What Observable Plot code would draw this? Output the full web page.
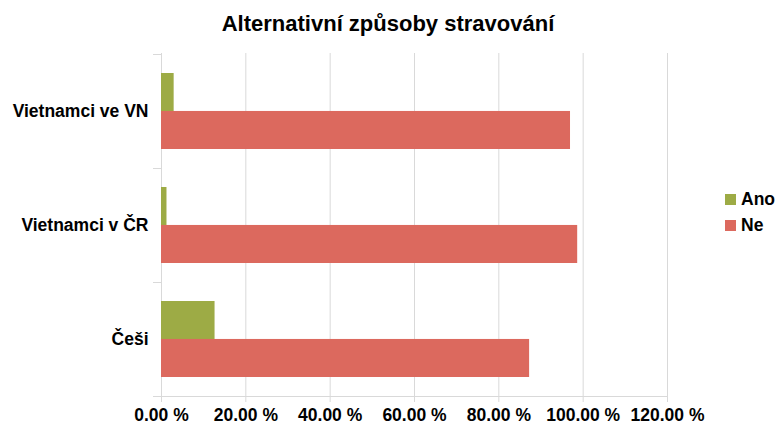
<!DOCTYPE html>
<html>
<head>
<meta charset="utf-8">
<script src="https://cdn.jsdelivr.net/npm/d3@7"></script>
<script src="https://cdn.jsdelivr.net/npm/@observablehq/plot@0.6"></script>
<style>
  body { margin: 0; background: #fff; font-family: "Liberation Sans", Arial, sans-serif; }
  #wrap { position: relative; width: 776px; height: 425px; }
  #title { height: 46px; line-height: 48px; text-align: center; font-size: 22px; font-weight: bold; color: #000; }
  #legend { position: absolute; left: 725px; top: 186px; font-size: 17.5px; font-weight: bold; color: #000; }
  #legend div { display: flex; align-items: center; height: 26px; }
  #legend span.sw { display: inline-block; width: 11px; height: 11px; margin-right: 5px; }
</style>
</head>
<body>
<div id="wrap">
  <div id="title">Alternativní způsoby stravování</div>
  <div id="chart"></div>
  <div id="legend"></div>
</div>
<script>
const categories = ["Vietnamci ve VN", "Vietnamci v ČR", "Češi"];
const series = ["Ano", "Ne"];
const ano = [3.0, 1.3, 12.7];
const ne = [97.0, 98.7, 87.3];
const colors = ["#9dab45", "#dc695e"];
const xTicks = [0, 20, 40, 60, 80, 100, 120];

const data = [];
categories.forEach((c, i) => {
  data.push({category: c, series: "Ano", value: ano[i]});
  data.push({category: c, series: "Ne", value: ne[i]});
});

const height = 379, marginTop = 7, marginBottom = 29;
const paddingInner = 0.336, paddingOuter = 0.168;
const step = (height - marginTop - marginBottom) / (categories.length - paddingInner + 2 * paddingOuter);
const half = step * (1 - paddingInner) / 2;
const gridColor = "#d9d9d9";

// bottom axis line and category boundary ticks on the y axis
function axisLines(index, scales, values, dims) {
  const g = d3.create("svg:g").attr("stroke", gridColor).attr("fill", "none");
  const x0 = scales.x(0), x1 = scales.x(120);
  const yb = dims.height - dims.marginBottom;
  g.append("line").attr("x1", x0 - 8).attr("x2", x1).attr("y1", yb + 0.5).attr("y2", yb + 0.5);
  const bw = scales.y.bandwidth();
  const st = scales.y.step();
  const bounds = categories.map(c => scales.y(c) - (st - bw) / 2);
  bounds.push(scales.y(categories[categories.length - 1]) + bw + (st - bw) / 2);
  bounds.forEach(b => g.append("line").attr("x1", x0 - 8).attr("x2", x0).attr("y1", Math.round(b) + 0.5).attr("y2", Math.round(b) + 0.5));
  return g.node();
}

const plot = Plot.plot({
  width: 776,
  height,
  marginTop,
  marginBottom,
  marginLeft: 161,
  marginRight: 109,
  style: {fontFamily: "Liberation Sans, Arial, sans-serif", fontSize: "17.5px", fontWeight: "bold", color: "#000", background: "#fff", overflow: "visible"},
  x: {domain: [0, 120], ticks: xTicks, tickFormat: d => d.toFixed(2) + " %", label: null},
  y: {domain: categories, paddingInner, paddingOuter, label: null},
  color: {domain: series, range: colors},
  marks: [
    Plot.ruleX(xTicks, {stroke: gridColor, strokeWidth: 1}),
    Plot.barX(data.filter(d => d.series === "Ano"), {x: "value", y: "category", fill: "series", insetBottom: half}),
    Plot.barX(data.filter(d => d.series === "Ne"), {x: "value", y: "category", fill: "series", insetTop: half}),
    axisLines,
    Plot.axisX({ticks: xTicks, tickFormat: d => d.toFixed(2) + " %", tickSize: 6, tickPadding: 6, stroke: gridColor, fontSize: 17.5, fontWeight: "bold", fill: "#000"}),
    Plot.axisY({tickSize: 0, tickPadding: 13, fontSize: 17.5, fontWeight: "bold", fill: "#000"})
  ]
});
document.getElementById("chart").appendChild(plot);

const legend = document.getElementById("legend");
series.forEach((s, i) => {
  const row = document.createElement("div");
  row.innerHTML = `<span class="sw" style="background:${colors[i]}"></span>${s}`;
  legend.appendChild(row);
});
</script>
</body>
</html>
